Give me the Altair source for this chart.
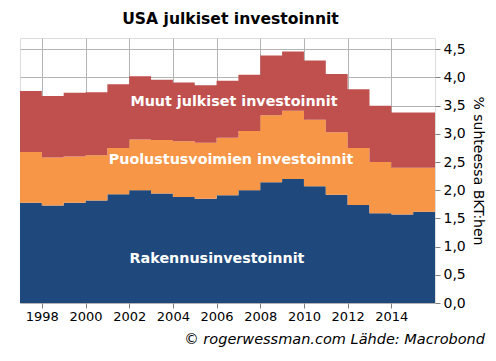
import altair as alt
import pandas as pd

years = list(range(1997, 2016))
rakennus_top = [1.78, 1.73, 1.78, 1.82, 1.93, 2.00, 1.94, 1.88, 1.85, 1.91, 2.00,
                2.14, 2.20, 2.07, 1.92, 1.74, 1.59, 1.57, 1.62]
puolustus_top = [2.68, 2.58, 2.60, 2.62, 2.75, 2.90, 2.89, 2.87, 2.84, 2.93, 3.05,
                 3.33, 3.41, 3.25, 3.03, 2.75, 2.50, 2.40, 2.40]
muut_top = [3.76, 3.67, 3.73, 3.74, 3.88, 4.02, 3.96, 3.91, 3.86, 3.94, 4.05,
            4.39, 4.46, 4.30, 4.06, 3.79, 3.50, 3.38, 3.38]

series = ["Rakennusinvestoinnit", "Puolustusvoimien investoinnit", "Muut julkiset investoinnit"]
colors = ["#1F497D", "#F79646", "#C0504D"]

rows = []
for i, y in enumerate(years):
    vals = [rakennus_top[i], puolustus_top[i] - rakennus_top[i], muut_top[i] - puolustus_top[i]]
    for k, s in enumerate(series):
        rows.append({"year": y, "series": s, "ord": k, "value": vals[k]})
# step-after: extend last year's step to the end of that year
last = years[-1]
for r in [r for r in rows if r["year"] == last]:
    rows.append({**r, "year": last + 1})
df = pd.DataFrame(rows)

FONT = "DejaVu Sans"

area = alt.Chart(df).mark_area(interpolate="step-after").encode(
    x=alt.X("year:Q", scale=alt.Scale(domain=[1997, 2016], nice=False, zero=False),
            axis=alt.Axis(values=list(range(1998, 2015, 2)), format="d", title=None,
                          grid=True, gridColor="#b4b4b4", domain=False, tickColor="#808080",
                          tickSize=5, labelFontSize=13, labelColor="#000", labelFont=FONT,
                          labelPadding=2)),
    y=alt.Y("value:Q", stack="zero", scale=alt.Scale(domain=[0, 4.7], nice=False),
            axis=alt.Axis(orient="right", values=[i * 0.5 for i in range(10)],
                          labelExpr="replace(format(datum.value, '.1f'), '.', ',')",
                          title="% suhteessa BKT:hen", titleFontSize=14, titleFontWeight="normal",
                          titleFont=FONT, titleColor="#000", titlePadding=5,
                          grid=True, gridColor="#b4b4b4", domain=False, tickColor="#808080",
                          tickSize=5, labelFontSize=14, labelColor="#000", labelFont=FONT,
                          labelPadding=3)),
    color=alt.Color("series:N", scale=alt.Scale(domain=series, range=colors), legend=None),
    order=alt.Order("ord:Q", sort="ascending"),
)

label_df = pd.DataFrame({"text": ["Muut julkiset investoinnit", "Puolustusvoimien investoinnit",
                                  "Rakennusinvestoinnit"]})
lx = [214, 211, 197]
ly = [64, 122, 221]
labels = [
    alt.Chart(label_df[label_df.text == t]).mark_text(
        font=FONT, fontSize=14.3, fontWeight="bold", color="white", align="center", baseline="middle"
    ).encode(text="text:N", x=alt.value(x), y=alt.value(y))
    for t, x, y in zip(label_df.text, lx, ly)
]

footer = alt.Chart(pd.DataFrame({"t": ["© rogerwessman.com Lähde: Macrobond"]})).mark_text(
    font=FONT, fontSize=14.5, fontStyle="italic", color="#000", align="right", baseline="middle"
).encode(text="t:N", x=alt.value(465), y=alt.value(302))

chart = alt.layer(area, *labels, footer).properties(
    width=415, height=265,
    autosize=alt.AutoSizeParams(type="none"),
    padding={"left": 12, "top": 30, "right": 53, "bottom": 50},
    title=alt.TitleParams("USA julkiset investoinnit", font=FONT, fontSize=15.6, fontWeight="bold",
                          color="#000", anchor="middle", offset=10, dx=3),
).configure_view(stroke="#808080", strokeWidth=1, cornerRadius=5).configure(background="white")

chart.save("out.html", embed_options={"renderer": "svg", "actions": False})
